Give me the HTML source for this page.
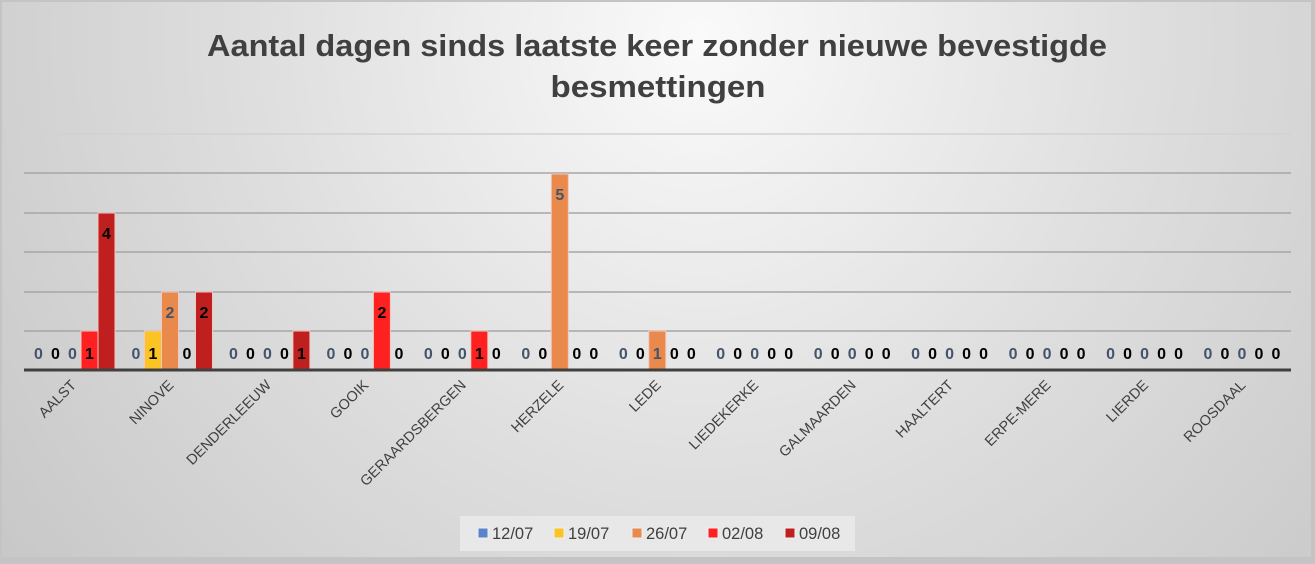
<!DOCTYPE html>
<html><head><meta charset="utf-8"><style>
html,body{margin:0;padding:0;width:1315px;height:564px;overflow:hidden;background:#d0d0d0}
svg{display:block;font-family:"Liberation Sans",sans-serif}
</style></head><body>
<svg width="1315" height="564" viewBox="0 0 1315 564" xmlns="http://www.w3.org/2000/svg">
<defs>
<radialGradient id="bg" cx="700" cy="40" r="900" gradientUnits="userSpaceOnUse">
<stop offset="0" stop-color="#fafafa"/><stop offset="0.5" stop-color="#dedede"/><stop offset="1" stop-color="#c6c6c6"/>
</radialGradient>
</defs>
<rect x="0" y="0" width="1315" height="564" fill="#c4c4c4"/>
<rect x="2" y="2" width="1309" height="555" fill="url(#bg)"/>
<text x="657" y="56" text-anchor="middle" font-size="31" font-weight="bold" fill="#404040" textLength="900" lengthAdjust="spacingAndGlyphs">Aantal dagen sinds laatste keer zonder nieuwe bevestigde</text>
<text x="658" y="97" text-anchor="middle" font-size="31" font-weight="bold" fill="#404040" textLength="215" lengthAdjust="spacingAndGlyphs">besmettingen</text>
<g stroke="#a6a6a6" stroke-width="1.5">
<line x1="24" y1="134" x2="1291" y2="134" stroke="#d2d2d2"/>
<line x1="24" y1="173" x2="1291" y2="173"/>
<line x1="24" y1="213" x2="1291" y2="213"/>
<line x1="24" y1="252" x2="1291" y2="252"/>
<line x1="24" y1="292" x2="1291" y2="292"/>
<line x1="24" y1="331" x2="1291" y2="331"/>
</g>
<g stroke="#f2c9c0" stroke-width="1">
<rect x="81" y="331" width="17" height="39" fill="#ff2121"/>
<rect x="98" y="213" width="17" height="157" fill="#c01f1f"/>
<rect x="144.5" y="331" width="17" height="39" fill="#fbc323"/>
<rect x="161.5" y="292" width="17" height="78" fill="#e9894b"/>
<rect x="195.5" y="292" width="17" height="78" fill="#c01f1f"/>
<rect x="292.9" y="331" width="17" height="39" fill="#c01f1f"/>
<rect x="373.4" y="292" width="17" height="78" fill="#ff2121"/>
<rect x="470.8" y="331" width="17" height="39" fill="#ff2121"/>
<rect x="551.3" y="174" width="17" height="196" fill="#e9894b"/>
<rect x="648.8" y="331" width="17" height="39" fill="#e9894b"/>
</g>
<line x1="24" y1="370" x2="1291" y2="370" stroke="#404040" stroke-width="3"/>
<g font-size="16" font-weight="bold" text-anchor="middle">
<g transform="translate(24,0)"><text x="14.5" y="359" fill="#44546a">0</text><text x="31.5" y="359">0</text><text x="48.5" y="359" fill="#44546a">0</text><text x="65.5" y="359">1</text><text x="82.5" y="239">4</text></g>
<g transform="translate(121.5,0)"><text x="14.5" y="359" fill="#44546a">0</text><text x="31.5" y="359">1</text><text x="48.5" y="318" fill="#44546a">2</text><text x="65.5" y="359">0</text><text x="82.5" y="318">2</text></g>
<g transform="translate(218.9,0)"><text x="14.5" y="359" fill="#44546a">0</text><text x="31.5" y="359">0</text><text x="48.5" y="359" fill="#44546a">0</text><text x="65.5" y="359">0</text><text x="82.5" y="359">1</text></g>
<g transform="translate(316.4,0)"><text x="14.5" y="359" fill="#44546a">0</text><text x="31.5" y="359">0</text><text x="48.5" y="359" fill="#44546a">0</text><text x="65.5" y="318">2</text><text x="82.5" y="359">0</text></g>
<g transform="translate(413.8,0)"><text x="14.5" y="359" fill="#44546a">0</text><text x="31.5" y="359">0</text><text x="48.5" y="359" fill="#44546a">0</text><text x="65.5" y="359">1</text><text x="82.5" y="359">0</text></g>
<g transform="translate(511.3,0)"><text x="14.5" y="359" fill="#44546a">0</text><text x="31.5" y="359">0</text><text x="48.5" y="200" fill="#44546a">5</text><text x="65.5" y="359">0</text><text x="82.5" y="359">0</text></g>
<g transform="translate(608.8,0)"><text x="14.5" y="359" fill="#44546a">0</text><text x="31.5" y="359">0</text><text x="48.5" y="359" fill="#44546a">1</text><text x="65.5" y="359">0</text><text x="82.5" y="359">0</text></g>
<g transform="translate(706.2,0)"><text x="14.5" y="359" fill="#44546a">0</text><text x="31.5" y="359">0</text><text x="48.5" y="359" fill="#44546a">0</text><text x="65.5" y="359">0</text><text x="82.5" y="359">0</text></g>
<g transform="translate(803.7,0)"><text x="14.5" y="359" fill="#44546a">0</text><text x="31.5" y="359">0</text><text x="48.5" y="359" fill="#44546a">0</text><text x="65.5" y="359">0</text><text x="82.5" y="359">0</text></g>
<g transform="translate(901.1,0)"><text x="14.5" y="359" fill="#44546a">0</text><text x="31.5" y="359">0</text><text x="48.5" y="359" fill="#44546a">0</text><text x="65.5" y="359">0</text><text x="82.5" y="359">0</text></g>
<g transform="translate(998.6,0)"><text x="14.5" y="359" fill="#44546a">0</text><text x="31.5" y="359">0</text><text x="48.5" y="359" fill="#44546a">0</text><text x="65.5" y="359">0</text><text x="82.5" y="359">0</text></g>
<g transform="translate(1096.1,0)"><text x="14.5" y="359" fill="#44546a">0</text><text x="31.5" y="359">0</text><text x="48.5" y="359" fill="#44546a">0</text><text x="65.5" y="359">0</text><text x="82.5" y="359">0</text></g>
<g transform="translate(1193.5,0)"><text x="14.5" y="359" fill="#44546a">0</text><text x="31.5" y="359">0</text><text x="48.5" y="359" fill="#44546a">0</text><text x="65.5" y="359">0</text><text x="82.5" y="359">0</text></g>
</g>
<g font-size="14.5" fill="#404040" text-anchor="end">
<text transform="translate(77,386) rotate(-45)">AALST</text>
<text transform="translate(174.5,386) rotate(-45)">NINOVE</text>
<text transform="translate(272,386) rotate(-45)">DENDERLEEUW</text>
<text transform="translate(369.4,386) rotate(-45)">GOOIK</text>
<text transform="translate(466.8,386) rotate(-45)">GERAARDSBERGEN</text>
<text transform="translate(564.3,386) rotate(-45)">HERZELE</text>
<text transform="translate(661.8,386) rotate(-45)">LEDE</text>
<text transform="translate(759.2,386) rotate(-45)">LIEDEKERKE</text>
<text transform="translate(856.7,386) rotate(-45)">GALMAARDEN</text>
<text transform="translate(954.1,386) rotate(-45)">HAALTERT</text>
<text transform="translate(1051.6,386) rotate(-45)">ERPE-MERE</text>
<text transform="translate(1149.1,386) rotate(-45)">LIERDE</text>
<text transform="translate(1246.5,386) rotate(-45)">ROOSDAAL</text>
</g>
<rect x="460" y="516" width="395" height="35" fill="#e8e8e8"/>
<g stroke="#f0f0f0" stroke-width="1">
<rect x="478" y="528" width="10" height="10" fill="#5a84c9"/>
<rect x="554" y="528" width="10" height="10" fill="#fbc323"/>
<rect x="632" y="528" width="10" height="10" fill="#e9894b"/>
<rect x="708" y="528" width="10" height="10" fill="#ff2121"/>
<rect x="785" y="528" width="10" height="10" fill="#c01f1f"/>
</g>
<g font-size="16.5" fill="#404040">
<text x="492" y="539">12/07</text>
<text x="568" y="539">19/07</text>
<text x="646" y="539">26/07</text>
<text x="722" y="539">02/08</text>
<text x="799" y="539">09/08</text>
</g>
</svg>
</body></html>
